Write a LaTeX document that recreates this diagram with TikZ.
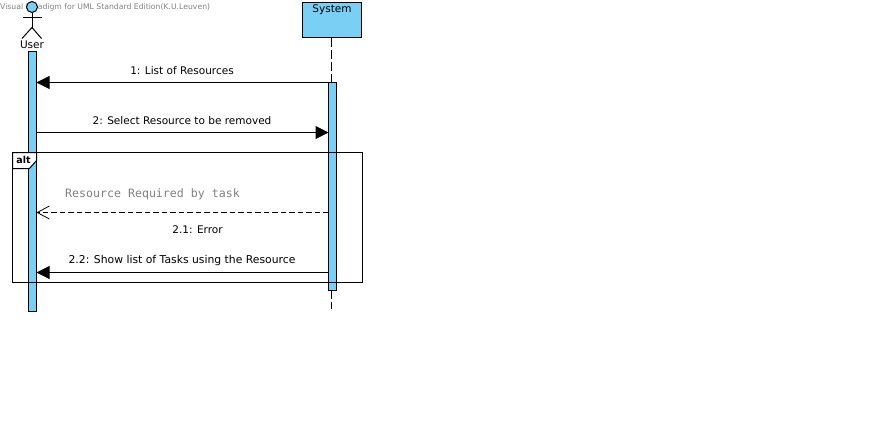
\documentclass[tikz,border=0pt]{standalone}
\usepackage{fontspec}
\setmainfont{DejaVu Sans}
\newfontfamily\monof{DejaVu Sans Mono}
\usetikzlibrary{arrows.meta}
\definecolor{vpblue}{RGB}{122,207,245}
\definecolor{markgray}{RGB}{130,130,130}
\tikzset{
  bar/.style={draw=black,fill=vpblue,line width=1pt,inner sep=0pt,outer sep=0pt,anchor=north west},
  line/.style={black,line width=1pt},
  lbl/.style={inner sep=0pt,font=\fontsize{10.5pt}{12pt}\selectfont,text=black},
  solidmsg/.style={line,-{Triangle[length=13pt,width=13pt]}},
  retmsg/.style={line,dash pattern=on 5.5pt off 3pt,-{Straight Barb[length=12pt,width=13pt,line width=.8pt]}}
}
\begin{document}
\begin{tikzpicture}[x=1pt,y=-1pt]
\useasboundingbox (0,0) rectangle (876,426);
\fill[white] (0,0) rectangle (876,426);
\node[inner sep=0pt,anchor=west,text=markgray,font=\fontsize{7.7pt}{9pt}\selectfont] (wm) at (0,7) {Visual Paradigm for UML Standard Edition(K.U.Leuven)};
% actor
\node[circle,draw=black,fill=vpblue,line width=1pt,minimum size=11pt,inner sep=0pt,outer sep=0pt] (head) at (32,7) {};
\coordinate (hip) at (32,27.5);
\draw[line] (head.south) -- (hip);
\draw[line] (22.5,17.5) -- (41.5,17.5);
\draw[line] (22,38.5) -- (hip) -- (41.5,38.5);
\node[lbl] (user) at (32,45) {User};
% system
\node[bar,minimum width=59pt,minimum height=35pt] (sys) at (302.5,2.5) {};
\node[lbl] (systxt) at (332,10) {System};
\coordinate (sysend) at (331.5,309);
\draw[line,dash pattern=on 9pt off 3pt] (sys.south -| sysend) -- (sysend);
% activation bars
\node[bar,minimum width=8pt,minimum height=260pt] (ubar) at (28.5,51.5) {};
\node[bar,minimum width=8pt,minimum height=208pt] (sbar) at (328.5,82.5) {};
% messages
\coordinate (a1) at (328.5,82.5); \coordinate (b1) at (36.5,82.5);
\coordinate (a2) at (36.5,132.5); \coordinate (b2) at (328.5,132.5);
\coordinate (a3) at (328.5,212.5); \coordinate (b3) at (36.5,212.5);
\coordinate (a4) at (328.5,272.5); \coordinate (b4) at (36.5,272.5);
\draw[solidmsg] (a1) -- (b1);
\draw[solidmsg] (a2) -- (b2);
\draw[retmsg] (a3) -- (b3);
\draw[solidmsg] (a4) -- (b4);
\node[lbl] (l1) at (182,71) {1: List of Resources};
\node[lbl] (l2) at (182,121) {2: Select Resource to be removed};
\node[inner sep=0pt,text=markgray,font=\monof\fontsize{11.6pt}{13pt}\selectfont] (l3g) at (152.5,194) {Resource Required by task};
\node[lbl] (l3) at (197.5,230) {2.1: Error};
\node[lbl,font=\fontsize{10.8pt}{12pt}\selectfont] (l4) at (182,261) {2.2: Show list of Tasks using the Resource};
% frame
\draw[line] (12.5,152.5) rectangle (362.5,282.5);
\draw[line,fill=white] (12.5,152.5) -- (36.5,152.5) -- (36.5,160.5) -- (29.5,168.5) -- (12.5,168.5) -- cycle;
\node[inner sep=0pt,font=\bfseries\fontsize{9.5pt}{10pt}\selectfont] (alt) at (23.5,160) {alt};
\end{tikzpicture}
\end{document}
